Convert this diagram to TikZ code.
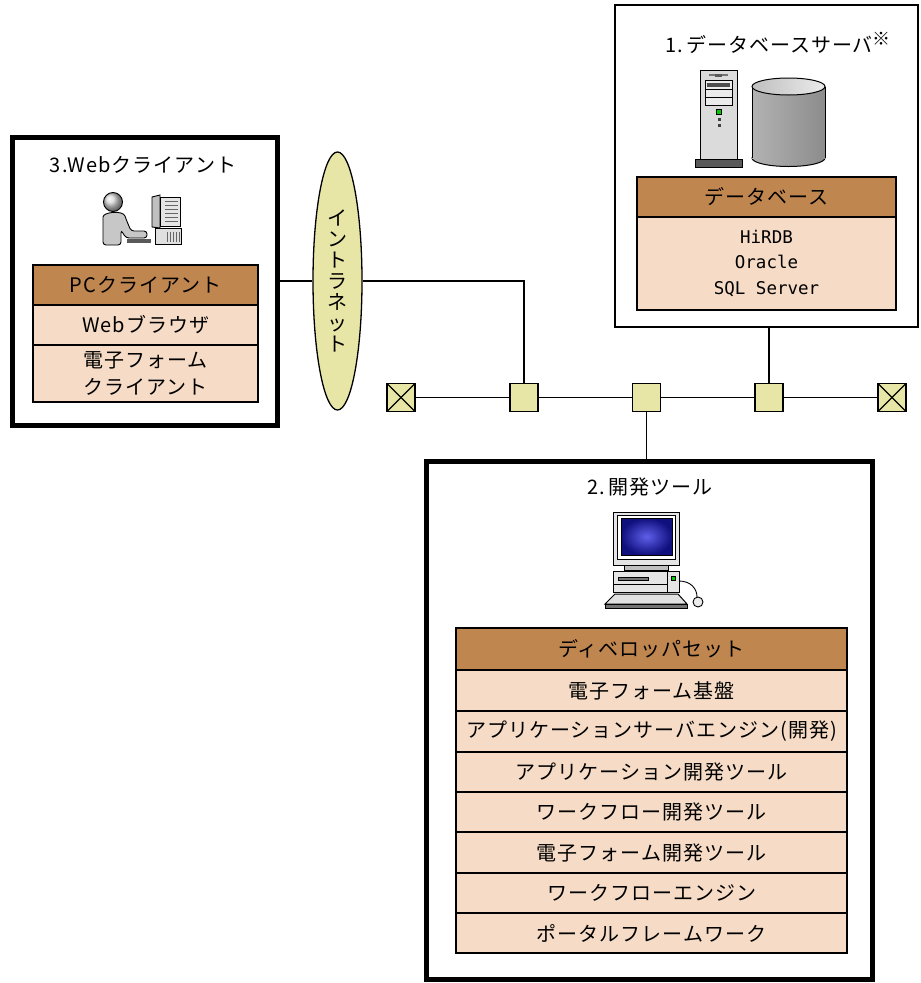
\documentclass[tikz,border=0pt]{standalone}
\usepackage{fontspec}
\setmainfont{Noto Sans CJK JP}[LetterSpace=5]
\newfontfamily\dbmono{DejaVu Sans Mono}
\usetikzlibrary{shapes.geometric}
\definecolor{hdrbrown}{RGB}{192,134,80}
\definecolor{cellpeach}{RGB}{246,220,198}
\definecolor{tapyellow}{RGB}{232,230,166}
\tikzset{
  thickbox/.style={draw, line width=5pt, fill=white},
  thinbox/.style={draw, line width=1.3pt, fill=white},
  hdrcell/.style={draw, line width=1.3pt, fill=hdrbrown, inner sep=0pt},
  bodycell/.style={draw, line width=1.3pt, fill=cellpeach, inner sep=0pt, align=center},
  conn/.style={line width=1.7pt},
  tap/.style={draw, line width=1.3pt, fill=tapyellow, minimum size=28pt, inner sep=0pt},
  terminator/.style={tap, path picture={
      \draw[line width=1.2pt] (path picture bounding box.north west) -- (path picture bounding box.south east);
      \draw[line width=1.2pt] (path picture bounding box.south west) -- (path picture bounding box.north east);}},
  ttl/.style={inner sep=0pt, font=\fontsize{20}{24}\selectfont},
}
\begin{document}
\begin{tikzpicture}[x=1pt, y=-1pt, font=\fontsize{20}{24}\selectfont]
\useasboundingbox (0,0) rectangle (921,983);

% ---------- outer boxes ----------
\node[thinbox, minimum width=303pt, minimum height=322pt] (db) at (766.5,166) {};
\node[thickbox, minimum width=265pt, minimum height=288pt] (web) at (144.5,281) {};
\node[thickbox, minimum width=446pt, minimum height=518pt] (dev) at (649,720) {};

% ---------- titles ----------
\node[ttl] (dbtitle) at (778,43) {1.\,データベースサーバ\raisebox{7pt}{\fontsize{18}{18}\selectfont ※}};
\node[ttl] (webtitle) at (143,165) {3.Webクライアント};
\node[ttl] (devtitle) at (650,487) {2.\,開発ツール};

% ---------- database table ----------
\node[hdrcell, minimum width=259pt, minimum height=40pt] (dbh) at (766.5,197) {データベース};
\node[bodycell, minimum width=259pt, minimum height=93pt,
      font=\dbmono\fontsize{17.5}{25.5}\selectfont] (dbb) at (766.5,263.5) {HiRDB\\Oracle\\SQL Server};

% ---------- web client table ----------
\node[hdrcell, minimum width=225pt, minimum height=40pt] (wh) at (145.5,285) {PCクライアント};
\node[bodycell, minimum width=225pt, minimum height=40pt] (w1) at (145.5,325) {Webブラウザ};
\node[bodycell, minimum width=225pt, minimum height=57pt,
      font=\fontsize{20}{27}\selectfont] (w2) at (145.5,373.5) {電子フォーム\\クライアント};

% ---------- development tool table ----------
\node[hdrcell, minimum width=391pt, minimum height=42pt] (dh) at (651.5,649) {ディベロッパセット};
\node[bodycell, minimum width=391pt, minimum height=41pt] (d1) at (651.5,690.5) {電子フォーム基盤};
\node[bodycell, minimum width=391pt, minimum height=41pt] (d2) at (651.5,731.5) {アプリケーションサーバエンジン(開発)};
\node[bodycell, minimum width=391pt, minimum height=40pt] (d3) at (651.5,772) {アプリケーション開発ツール};
\node[bodycell, minimum width=391pt, minimum height=40pt] (d4) at (651.5,812) {ワークフロー開発ツール};
\node[bodycell, minimum width=391pt, minimum height=41pt] (d5) at (651.5,852.5) {電子フォーム開発ツール};
\node[bodycell, minimum width=391pt, minimum height=40pt] (d6) at (651.5,893) {ワークフローエンジン};
\node[bodycell, minimum width=391pt, minimum height=40pt] (d7) at (651.5,933) {ポータルフレームワーク};

% ---------- intranet ----------
\node[draw, line width=1.3pt, fill=tapyellow, ellipse, minimum width=49pt, minimum height=258pt,
      inner sep=0pt, align=center, font=\fontsize{20}{21}\selectfont] (intra) at (337.5,281)
      {イ\\ン\\ト\\ラ\\ネ\\ッ\\ト};

% ---------- network bus ----------
\node[terminator] (te1) at (401,397.5) {};
\node[tap] (t1) at (524,397.5) {};
\node[tap] (t2) at (646.5,397.5) {};
\node[tap] (t3) at (769,397.5) {};
\node[terminator] (te2) at (892,397.5) {};

\draw[conn] (te1) -- (t1) -- (t2) -- (t3) -- (te2);
\draw[conn] (web.east) -- (intra.west);
\draw[conn] (intra.east) -- (intra.east -| t1) -- (t1.north);
\draw[conn] (t3 |- db.south) -- (t3.north);
\draw[conn] (t2.south) -- (t2 |- dev.north);

% ---------- database server: tower ----------
\draw[line width=1pt, fill=black!14] (700,70) rectangle (737,160);
\draw[line width=1.2pt, black!55] (709,75) -- (728,75);
\fill[black!65] (715,73.5) rectangle (722,76.5);
\draw[line width=0.8pt, fill=black!8] (705,80) rectangle (732,89);
\fill[black!70] (707,82.5) rectangle (730,86.5);
\draw[line width=0.8pt, fill=black!8] (705,89) rectangle (732,97);
\draw[line width=0.8pt, fill=black!8] (705,97) rectangle (732,105);
\draw[line width=0.6pt, fill=green!80!black] (716.5,109.5) rectangle (721,114);
\fill[black!75] (717.5,118) rectangle (720.5,121);
\fill[black!75] (717.5,124) rectangle (720.5,127);
\draw[line width=1pt, fill=black!65] (695,159) rectangle (742,167);

% ---------- database server: disk ----------
\shade[left color=black!30, middle color=black!5, right color=black!45] (788.5,158) ellipse [x radius=36.5pt, y radius=8.5pt];
\draw[line width=1pt] (788.5,158) ellipse [x radius=36.5pt, y radius=8.5pt];
\shade[left color=black!30, middle color=black!5, right color=black!45] (752,86.5) rectangle (825,158);
\draw[line width=1pt] (752,86.5) -- (752,158) (825,86.5) -- (825,158);
\shade[left color=black!25, right color=black!8] (788.5,86.5) ellipse [x radius=36.5pt, y radius=8.5pt];
\draw[line width=1pt] (788.5,86.5) ellipse [x radius=36.5pt, y radius=8.5pt];

% ---------- web client: user at a PC ----------
\shade[ball color=black!15] (113,202) circle (9.5pt);
\draw[line width=0.9pt] (113,202) circle (9.5pt);
\draw[line width=0.9pt, fill=black!22, rounded corners=3pt]
  (103,245) -- (103,220) .. controls (103,212) and (123,210) .. (126,219)
  -- (131,231) -- (147,231) -- (147,238) -- (126,238) -- (121,230) -- (121,245) -- cycle;
\fill[black!65] (127,238.5) rectangle (151,242.5);
\draw[line width=0.9pt, fill=black!25] (152,197) -- (160,195) -- (160,228) -- (152,227) -- cycle;
\draw[line width=0.9pt, fill=black!10] (160,197) rectangle (180,226);
\foreach \vy in {201,205,...,223} \draw[line width=0.7pt, black!60] (165,\vy) -- (178,\vy);
\draw[line width=0.9pt, fill=black!12] (155,228) rectangle (181,244);
\foreach \vx in {167,170,...,179} \draw[line width=0.7pt, black!60] (\vx,232) -- (\vx,242);

% ---------- development PC ----------
\draw[line width=1pt, fill=black!10] (613,512) rectangle (679,565);
\draw[line width=0.6pt, fill=white] (617,515) rectangle (675,559);
\shade[inner color={rgb,255:red,95;green,95;blue,235}, outer color={rgb,255:red,15;green,15;blue,125}] (621,518) rectangle (672,555);
\draw[line width=0.8pt] (621,518) rectangle (672,555);
\draw[line width=0.9pt, fill=black!25] (624,565) rectangle (668,570);
\draw[line width=1pt, fill=black!10] (613,571) rectangle (679,592);
\draw[line width=0.6pt] (613,584) -- (667,584) (667,571) -- (667,592);
\draw[line width=0.7pt, fill=black!55] (618,577) rectangle (648,580.5);
\draw[line width=0.5pt, fill=green!80!black] (671,576.5) rectangle (675,580.5);
\draw[line width=0.9pt] (679,581) .. controls (690,581) and (697,588) .. (697,597);
\draw[line width=1pt, fill=black!12] (615,594) -- (678,594) -- (687,604) -- (605,604) -- cycle;
\draw[line width=1pt, fill=black!55] (605,604) rectangle (687,608);
\draw[line width=0.9pt, fill=black!8] (698,602) ellipse [x radius=5pt, y radius=5pt];
\end{tikzpicture}
\end{document}
